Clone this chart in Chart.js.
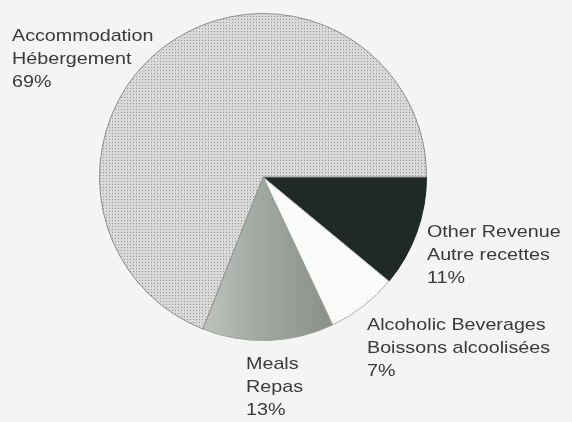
<!DOCTYPE html>
<html>
<head>
<meta charset="utf-8">
<script src="https://cdn.jsdelivr.net/npm/chart.js@4.4.0/dist/chart.umd.min.js"></script>
<style>
  html, body { margin: 0; padding: 0; background: #f4f4f2; }
  #wrap { width: 572px; height: 422px; position: relative; }
</style>
</head>
<body>
<div id="wrap"><canvas id="c" width="572" height="422"></canvas></div>
<script>
// ---- data ----
const categoriesEn = ['Other Revenue', 'Alcoholic Beverages', 'Meals', 'Accommodation'];
const categoriesFr = ['Autre recettes', 'Boissons alcoolisées', 'Repas', 'Hébergement'];
const values = [11, 7, 13, 69];
const percentLabels = ['11%', '7%', '13%', '69%'];

// ---- styles ----
const labelOffsets = [ [164, 60], [104, 153], [-17, 192], [-251, -136] ]; // relative to pie centre
const lineGap = 23;

function dotPattern(base, dot) {
  const p = document.createElement('canvas');
  p.width = 3; p.height = 3;
  const g = p.getContext('2d');
  g.fillStyle = base; g.fillRect(0, 0, 3, 3);
  g.fillStyle = dot; g.fillRect(1, 1, 1, 1);
  return g.createPattern(p, 'repeat');
}

const ctx = document.getElementById('c').getContext('2d');
const accomPattern = dotPattern('#d9d9d7', '#9a9a98');

function mealsGradient(chart) {
  const a = chart.chartArea;
  const cx = (a.left + a.right) / 2;
  const g = chart.ctx.createLinearGradient(cx - 65, 0, cx + 60, 0);
  g.addColorStop(0, '#c0c4c0');
  g.addColorStop(0.45, '#a3aaa4');
  g.addColorStop(1, '#8c938d');
  return g;
}

function sliceFill(context) {
  const i = context.dataIndex;
  if (i === 0) return '#1f2a24';
  if (i === 1) return '#fbfbfa';
  if (i === 2) return context.chart.chartArea ? mealsGradient(context.chart) : '#a3aba5';
  return accomPattern;
}

const labelPlugin = {
  id: 'sliceLabels',
  afterDatasetsDraw(chart) {
    const meta = chart.getDatasetMeta(0);
    const c = chart.ctx;
    c.save();
    c.fillStyle = '#3a3a3a';
    c.font = '17px "Liberation Sans", Arial, sans-serif';
    c.textBaseline = 'alphabetic';
    c.textAlign = 'left';
    meta.data.forEach((arc, i) => {
      const {x, y} = arc.getProps(['x', 'y'], true);
      const lx = x + labelOffsets[i][0];
      const ly = y + labelOffsets[i][1];
      const lines = [categoriesEn[i], categoriesFr[i], percentLabels[i]];
      lines.forEach((t, k) => {
        c.save();
        c.translate(lx, ly + k * lineGap);
        c.scale(1.16, 1);
        c.fillText(t, 0, 0);
        c.restore();
      });
    });
    c.restore();
  }
};

new Chart(ctx, {
  type: 'pie',
  data: {
    labels: categoriesEn,
    datasets: [{
      data: values,
      backgroundColor: sliceFill,
      borderColor: ['#1f2a24', '#b0b0b0', '#9aa09a', '#8c8c8c'],
      borderWidth: 1
    }]
  },
  options: {
    responsive: false,
    animation: false,
    rotation: 90,
    layout: { padding: { left: 99, right: 145, top: 13, bottom: 81 } },
    plugins: {
      legend: { display: false },
      tooltip: { enabled: false }
    }
  },
  plugins: [labelPlugin]
});
</script>
</body>
</html>
